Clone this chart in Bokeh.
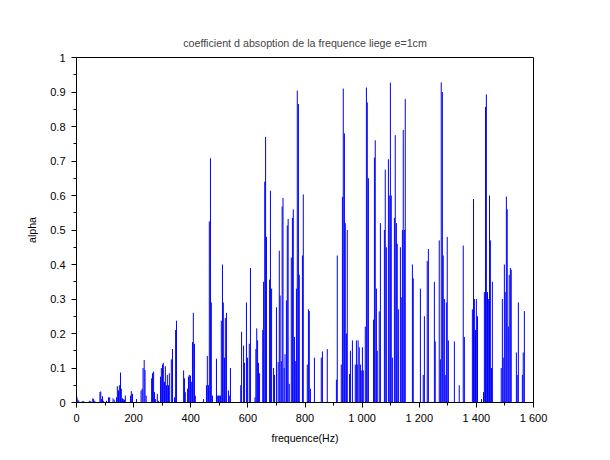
from bokeh.plotting import figure
from bokeh.models import Range1d, FixedTicker
from bokeh.embed import file_html
from bokeh.resources import INLINE

freq = [2, 5, 8, 20, 25, 45, 50, 57, 60, 64,
        82, 85, 88, 91, 95, 105, 112, 116, 128, 132,
        140, 143, 147, 150, 154, 157, 161, 164, 168, 171,
        189, 192, 196, 210,
        226, 230, 233, 237, 240, 244,
        263, 266, 270, 273, 277, 283, 287,
        294, 297, 301, 304, 308, 311, 315, 318, 322, 325,
        332, 336, 343, 347, 350,
        375, 378, 381, 389, 392, 395, 399, 402, 406, 409, 413, 416,
        445, 455, 458, 462, 465, 469, 472, 476,
        490, 493, 497, 500, 504, 507, 511, 514, 518, 521, 525, 532, 535, 539,
        575, 578, 585, 588, 595, 599, 605, 609,
        625, 628, 631, 634, 637, 641,
        652, 655, 659, 662, 665, 676, 679, 683,
        690, 693, 700, 706, 710, 713, 717, 720, 723, 727, 730, 735, 738, 741, 745,
        752, 756, 759, 763, 766, 770, 773, 777, 780,
        791, 794, 808, 812, 815, 819, 833, 857, 861, 878,
        910, 913, 927, 931, 934, 938, 941, 945, 948,
        956, 959, 966, 976, 980, 983, 986, 990, 994, 997, 1001, 1004,
        1011, 1015, 1018, 1022,
        1040, 1043, 1046, 1050, 1053, 1060, 1064,
        1078, 1081, 1085, 1092, 1095, 1099, 1102, 1106, 1113, 1116, 1120, 1123, 1127,
        1134, 1137, 1141, 1144, 1148, 1151,
        1176, 1179, 1204, 1214, 1218, 1228, 1232, 1253, 1256,
        1270, 1274, 1277, 1281, 1284, 1288, 1291, 1295, 1298, 1302,
        1323, 1340, 1354, 1358,
        1386, 1390, 1393, 1397, 1400, 1404, 1418,
        1425, 1428, 1432, 1435, 1439, 1442, 1446, 1449, 1453, 1456,
        1487, 1491, 1494, 1498, 1501, 1505, 1508, 1512, 1515, 1519, 1522,
        1540, 1543, 1547, 1561, 1564, 1568]

alpha = [0.015, 0.008, 0.005, 0.004, 0.004, 0.005, 0.004, 0.012, 0.01, 0.005,
         0.03, 0.032, 0.01, 0.018, 0.005, 0.005, 0.015, 0.015, 0.012, 0.008,
         0.015, 0.047, 0.035, 0.05, 0.087, 0.04, 0.012, 0.01, 0.008, 0.02,
         0.02, 0.033, 0.025, 0.01,
         0.035, 0.04, 0.1, 0.123, 0.094, 0.02,
         0.07, 0.085, 0.09, 0.03, 0.01, 0.025, 0.005,
         0.075, 0.1, 0.11, 0.115, 0.06, 0.105, 0.05, 0.08, 0.05, 0.085,
         0.125, 0.155, 0.015, 0.21, 0.237,
         0.093, 0.07, 0.03, 0.04, 0.075, 0.08, 0.078, 0.06, 0.175, 0.26, 0.17, 0.02,
         0.01, 0.05, 0.135, 0.05, 0.525, 0.708, 0.29, 0.02,
         0.127, 0.02, 0.02, 0.02, 0.02, 0.237, 0.4, 0.29, 0.13, 0.245, 0.26, 0.035, 0.02, 0.1,
         0.05, 0.205, 0.165, 0.115, 0.29, 0.13, 0.17, 0.39,
         0.015, 0.155, 0.215, 0.18, 0.115, 0.085,
         0.21, 0.35, 0.64, 0.77, 0.48, 0.356, 0.614, 0.33,
         0.1, 0.08, 0.276, 0.117, 0.44, 0.31, 0.12, 0.568, 0.593, 0.1, 0.14, 0.296, 0.513, 0.532, 0.054,
         0.42, 0.535, 0.56, 0.19, 0.12, 0.33, 0.904, 0.865, 0.37,
         0.426, 0.603, 0.11, 0.27, 0.265, 0.04, 0.13, 0.13, 0.148, 0.155,
         0.066, 0.426, 0.11, 0.596, 0.91, 0.78, 0.52, 0.2, 0.5,
         0.083, 0.15, 0.18, 0.11, 0.18, 0.11, 0.18, 0.16, 0.11, 0.093, 0.16, 0.093,
         0.22, 0.913, 0.87, 0.65,
         0.24, 0.71, 0.76, 0.33, 0.15, 0.264, 0.52,
         0.5, 0.675, 0.45, 0.705, 0.6, 0.927, 0.6, 0.13, 0.535, 0.775, 0.52, 0.46, 0.27,
         0.45, 0.305, 0.5, 0.79, 0.5, 0.88,
         0.4, 0.36, 0.33, 0.08, 0.25, 0.41, 0.445, 0.35, 0.177,
         0.47, 0.125, 0.928, 0.9, 0.426, 0.3, 0.08, 0.29, 0.48, 0.18,
         0.177, 0.05, 0.455, 0.19,
         0.27, 0.59, 0.3, 0.21, 0.3, 0.25, 0.01,
         0.03, 0.32, 0.857, 0.893, 0.32, 0.3, 0.6, 0.47, 0.1, 0.35,
         0.1, 0.3, 0.13, 0.4, 0.32, 0.597, 0.56, 0.22, 0.37, 0.39, 0.385,
         0.145, 0.08, 0.29, 0.08, 0.145, 0.265]

x_ticks = [0, 200, 400, 600, 800, 1000, 1200, 1400, 1600]
x_tick_labels = ["0", "200", "400", "600", "800", "1 000", "1 200", "1 400", "1 600"]
y_ticks = [0, 0.1, 0.2, 0.3, 0.4, 0.5, 0.6, 0.7, 0.8, 0.9, 1]
y_tick_labels = ["0", "0.1", "0.2", "0.3", "0.4", "0.5", "0.6", "0.7", "0.8", "0.9", "1"]

title = "coefficient d absoption de la frequence liege e=1cm"
FONT = "Liberation Sans"

p = figure(width=594, height=452, output_backend="svg", toolbar_location=None,
           x_range=Range1d(0, 1600), y_range=Range1d(0, 1),
           min_border_left=76, min_border_right=61, min_border_top=57, min_border_bottom=50,
           title=title)
p.title.align = "center"
p.title.text_font = FONT
p.title.text_font_size = "10.7px"
p.title.text_font_style = "normal"
p.title.standoff = 18

p.xgrid.visible = False
p.ygrid.visible = False
p.outline_line_color = "black"
p.outline_line_width = 1
p.outline_line_alpha = 1
p.background_fill_color = "white"
p.border_fill_color = "white"

p.segment(x0=freq, y0=[0] * len(freq), x1=freq, y1=alpha, line_color="#0000ff", line_width=1)

for ax, ticks, labels in ((p.xaxis[0], x_ticks, x_tick_labels), (p.yaxis[0], y_ticks, y_tick_labels)):
    ax.ticker = FixedTicker(ticks=ticks,
                            minor_ticks=[(ticks[i] + ticks[i + 1]) / 2 for i in range(len(ticks) - 1)])
    ax.major_label_overrides = {t: l for t, l in zip(ticks, labels)}
    ax.major_tick_out = 5
    ax.major_tick_in = 0
    ax.minor_tick_out = 3
    ax.minor_tick_in = 0
    ax.axis_line_color = "black"
    ax.major_tick_line_color = "black"
    ax.minor_tick_line_color = "black"
    ax.major_label_text_font = FONT
    ax.major_label_text_font_size = "11px"
    ax.major_label_text_color = "black"
    ax.axis_label_text_font = FONT
    ax.axis_label_text_font_size = "10.6px"
    ax.axis_label_text_font_style = "normal"
    ax.axis_label_text_color = "black"

p.xaxis.axis_label = "frequence(Hz)"
p.yaxis.axis_label = "alpha"
p.xaxis.major_label_standoff = 4
p.yaxis.major_label_standoff = 6
p.xaxis.axis_label_standoff = 5
p.yaxis.axis_label_standoff = 9

open("out.html", "w").write(file_html(p, INLINE))
